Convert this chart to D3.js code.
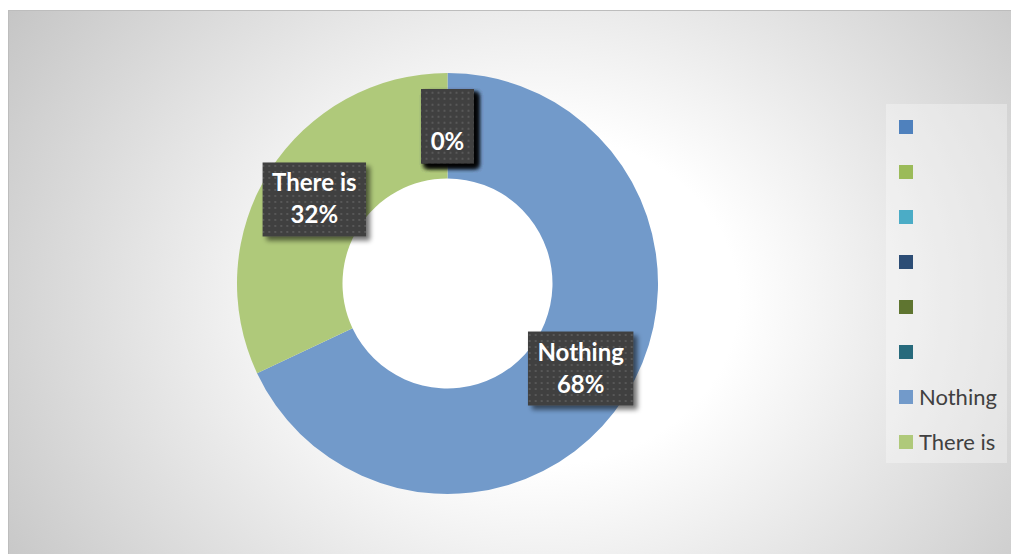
<!DOCTYPE html>
<html>
<head>
<meta charset="utf-8">
<script src="https://cdn.jsdelivr.net/npm/d3@7"></script>
<style>
  html, body { margin: 0; padding: 0; background: #ffffff; }
  svg { display: block; }
</style>
</head>
<body>
<svg id="chart" width="1011" height="554"></svg>
<script>
// Series shown in the doughnut and its legend
const categories = ["", "", "", "", "", "", "Nothing", "There is"];
const values = [0, 0, 0, 0, 0, 0, 68, 32];
const colors = ["#4f81bd", "#9bbb59", "#4bacc6", "#2c4d75", "#5f7530", "#276a7c", "#729aca", "#afc97a"];

const svg = d3.select("#chart");
const W = 1011, H = 554;
const defs = svg.append("defs");

// Background: soft radial fade from white to grey
const bg = defs.append("radialGradient")
  .attr("id", "bgGrad")
  .attr("gradientUnits", "userSpaceOnUse")
  .attr("cx", 0).attr("cy", 0).attr("r", 1.1)
  .attr("gradientTransform", "translate(540,300) scale(600,500)");
bg.append("stop").attr("offset", 0).attr("stop-color", "#ffffff");
bg.append("stop").attr("offset", 0.3).attr("stop-color", "#ffffff");
bg.append("stop").attr("offset", 1).attr("stop-color", "#c2c2c2");

// Dotted fill for data label boxes
const pat = defs.append("pattern")
  .attr("id", "dots")
  .attr("patternUnits", "userSpaceOnUse")
  .attr("width", 6).attr("height", 6);
pat.append("rect").attr("width", 6).attr("height", 6).attr("fill", "#404040");
pat.append("rect").attr("x", 2).attr("y", 2).attr("width", 2).attr("height", 2).attr("fill", "#585858");

// Drop shadow for label boxes
const sh = defs.append("filter").attr("id", "shadow")
  .attr("x", "-30%").attr("y", "-30%").attr("width", "160%").attr("height", "160%");
sh.append("feGaussianBlur").attr("in", "SourceAlpha").attr("stdDeviation", 2.5).attr("result", "b");
sh.append("feOffset").attr("in", "b").attr("dx", 4).attr("dy", 4).attr("result", "o");
sh.append("feComponentTransfer").attr("in", "o").attr("result", "s")
  .append("feFuncA").attr("type", "linear").attr("slope", 0.55);
const mg = sh.append("feMerge");
mg.append("feMergeNode").attr("in", "s");
mg.append("feMergeNode").attr("in", "SourceGraphic");

// Chart area
svg.append("rect")
  .attr("x", 8.5).attr("y", 10.5)
  .attr("width", W + 20).attr("height", H + 20)
  .attr("fill", "url(#bgGrad)")
  .attr("stroke", "#bdbdbd").attr("stroke-width", 1);

// Doughnut
const cx = 447.5, cy = 283.5;
const outerR = 210.5, innerR = 105;
const data = categories.map((c, i) => ({ name: c, value: values[i], color: colors[i] }));
const total = d3.sum(values);

const pie = d3.pie().sort(null).value(d => d.value);
const arcs = pie(data);
const arc = d3.arc().innerRadius(innerR).outerRadius(outerR);
const labelArc = d3.arc().innerRadius((innerR + outerR) / 2).outerRadius((innerR + outerR) / 2);

const g = svg.append("g").attr("transform", `translate(${cx},${cy})`);
g.selectAll("path.slice")
  .data(arcs.filter(a => a.data.value > 0))
  .join("path")
  .attr("class", "slice")
  .attr("d", arc)
  .attr("fill", d => d.data.color);

// Data labels: category name on the first line, percentage on the second
const fmtPct = d3.format(".0%");
const labels = g.selectAll("g.label")
  .data(arcs)
  .join("g")
  .attr("class", "label")
  .attr("transform", d => `translate(${labelArc.centroid(d)})`);

labels.each(function(d) {
  const lg = d3.select(this);
  const box = lg.append("rect").attr("fill", "url(#dots)").attr("filter", "url(#shadow)");
  const lines = [d.data.name, fmtPct(d.data.value / total)];
  const texts = lines.map((t, i) => lg.append("text")
    .attr("x", 0)
    .attr("y", i === 0 ? -7.5 : 24.5)
    .attr("text-anchor", "middle")
    .attr("font-family", "Lato, 'Open Sans', sans-serif")
    .attr("font-weight", "bold")
    .attr("font-size", 24)
    .attr("fill", "#ffffff")
    .text(t));
  const tw = d3.max(texts, t => t.node().getComputedTextLength());
  const bw = tw + 19, bh = 74;
  box.attr("x", -bw / 2).attr("y", -bh / 2 + 0.5).attr("width", bw).attr("height", bh);
});

// Legend
const legendX = 886, legendY = 104;
const legend = svg.append("g");
legend.append("rect")
  .attr("x", legendX).attr("y", legendY)
  .attr("width", 121).attr("height", 359)
  .attr("fill", "#ffffff").attr("fill-opacity", 0.32);

const items = legend.selectAll("g.item")
  .data(data)
  .join("g")
  .attr("class", "item")
  .attr("transform", (d, i) => `translate(${legendX + 13},${legendY + 23 + i * 45})`);
items.append("rect")
  .attr("x", 0).attr("y", -7)
  .attr("width", 14).attr("height", 14)
  .attr("fill", d => d.color);
items.append("text")
  .attr("x", 20).attr("y", 8)
  .attr("font-family", "Lato, 'Open Sans', sans-serif")
  .attr("font-size", 22)
  .attr("fill", "#404040")
  .text(d => d.name);
</script>
</body>
</html>
